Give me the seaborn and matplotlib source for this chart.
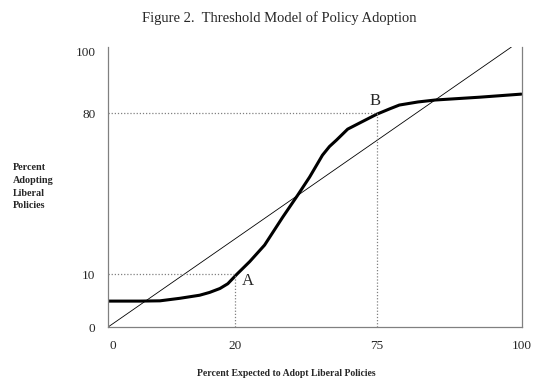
import pandas as pd
import matplotlib
matplotlib.use("Agg")
import matplotlib.pyplot as plt
import seaborn as sns

# Threshold curve (axis units 0-100 on each side)
curve_x = [0, 7.7, 12.6, 17.4, 22.2, 24.6, 27.1, 29.0, 31.2, 34.3, 37.9, 42.3, 45.9, 48.8,
           51.9, 53.6, 55.3, 58.0, 60.9, 65.0, 68.1, 70.5, 75.0, 79.2, 89.9, 100]
curve_y = [9.3, 9.3, 9.4, 10.3, 11.4, 12.4, 13.8, 15.5, 18.9, 23.4, 29.3, 39.3, 47.1, 53.6,
           61.4, 64.5, 66.8, 70.7, 72.9, 76.0, 77.9, 79.3, 80.4, 81.1, 82.1, 83.2]

# 45-degree reference line
diag_x = [0, 97.6]
diag_y = [0, 100]

# labelled points
point_names = ["A", "B"]
point_x = [30.7, 65.0]
point_y = [18.9, 76.4]

x_tick_labels = ["0", "20", "75", "100"]
x_tick_pos = [1.2, 30.7, 65.0, 100.2]
y_tick_labels = ["0", "10", "80", "100"]
y_tick_pos = [0, 18.9, 76.4, 98.5]

sns.set_style("white")
plt.rcParams["font.family"] = ["Liberation Serif", "DejaVu Serif"]

fig = plt.figure(figsize=(5.45, 3.89), dpi=100)
ax = fig.add_axes([0.198, 0.159, 0.76, 0.72])

curve = pd.DataFrame({"x": curve_x, "y": curve_y})
diag = pd.DataFrame({"x": diag_x, "y": diag_y})
sns.lineplot(data=diag, x="x", y="y", color="black", linewidth=0.6, sort=False, ax=ax)
sns.lineplot(data=curve, x="x", y="y", color="black", linewidth=2.2, sort=False, ax=ax,
             solid_joinstyle="round")

# dotted guides for A and B
for px, py in zip(point_x, point_y):
    ax.plot([0, px], [py, py], color="#808080", linestyle=(0, (1, 1.5)), linewidth=0.9)
    ax.plot([px, px], [0, py], color="#808080", linestyle=(0, (1, 1.5)), linewidth=0.9)

ax.text(point_x[0] + 1.8, point_y[0] - 2.5, point_names[0], fontsize=12, ha="left", va="center")
ax.text(point_x[1] - 0.3, point_y[1] + 4.2, point_names[1], fontsize=12, ha="center", va="center")

ax.set_xlim(0, 100)
ax.set_ylim(0, 100)
ax.set_xticks(x_tick_pos)
ax.set_xticklabels(x_tick_labels, fontsize=9.5)
ax.set_yticks(y_tick_pos)
ax.set_yticklabels(y_tick_labels, fontsize=9.5)
ax.tick_params(axis="x", length=0, pad=9)
ax.tick_params(axis="y", length=0, pad=9)
ax.set_xlabel("")
ax.set_ylabel("")

for side in ["left", "right", "bottom"]:
    ax.spines[side].set_visible(True)
    ax.spines[side].set_color("#808080")
    ax.spines[side].set_linewidth(0.9)
ax.spines["top"].set_visible(False)

fig.text(0.513, 0.953, "Figure 2.  Threshold Model of Policy Adoption", fontsize=10.5,
         ha="center", va="center")
fig.text(0.024, 0.52, "Percent\nAdopting\nLiberal\nPolicies", fontsize=7.3,
         fontweight="bold", ha="left", va="center", linespacing=1.55)
fig.text(0.525, 0.041, "Percent Expected to Adopt Liberal Policies", fontsize=7,
         fontweight="bold", ha="center", va="center")

fig.savefig("out.png", dpi=100)
